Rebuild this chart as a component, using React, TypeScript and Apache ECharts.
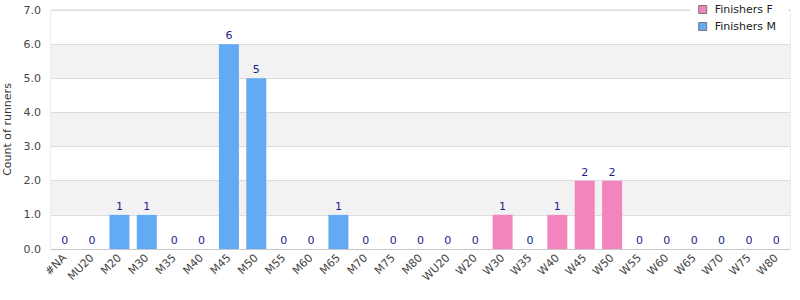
import React, { useEffect, useRef } from "react";
import * as echarts from "echarts";

const categories = ["#NA", "MU20", "M20", "M30", "M35", "M40", "M45", "M50", "M55", "M60", "M65", "M70", "M75", "M80", "WU20", "W20", "W30", "W35", "W40", "W45", "W50", "W55", "W60", "W65", "W70", "W75", "W80"];
const finishersM = [0, 0, 1, 1, 0, 0, 6, 5, 0, 0, 1, 0, 0, 0, null, null, null, null, null, null, null, null, null, null, null, null, null];
const finishersF = [null, null, null, null, null, null, null, null, null, null, null, null, null, null, 0, 0, 1, 0, 1, 2, 2, 0, 0, 0, 0, 0, 0];
const yTicks = [0, 1, 2, 3, 4, 5, 6, 7];

export default function App() {
  const ref = useRef<HTMLDivElement>(null);
  useEffect(() => {
    const chart = echarts.init(ref.current!, null, { renderer: "svg" });
    const font = "DejaVu Sans";
    const label = { show: true, position: "top", distance: 3, color: "#1c1c8c", fontSize: 11, fontFamily: font };
    chart.setOption({
      animation: false,
      textStyle: { fontFamily: font },
      grid: { left: 51, right: 10, top: 10, bottom: 51, containLabel: false, outerBoundsMode: "none", show: true, borderColor: "#d8d8d8", borderWidth: 1, backgroundColor: "transparent" },
      legend: {
        data: ["Finishers F", "Finishers M"],
        orient: "vertical",
        right: 12,
        top: 1,
        itemWidth: 8,
        itemHeight: 8,
        itemGap: 6,
        backgroundColor: "#fff",
        padding: [3, 12, 3, 8],
        itemStyle: { borderColor: "#777", borderWidth: 1 },
        textStyle: { fontSize: 11, color: "#222", fontFamily: font, padding: [0, 0, 0, 3] },
        icon: "rect",
      },
      xAxis: {
        type: "category",
        data: categories,
        axisLine: { show: true, lineStyle: { color: "#c8c8c8" } },
        axisTick: { show: false },
        axisLabel: { rotate: 45, interval: 0, fontSize: 11, color: "#444", fontFamily: font, margin: 7 },
      },
      yAxis: {
        type: "value",
        min: yTicks[0],
        max: yTicks[yTicks.length - 1],
        interval: 1,
        name: "Count of runners",
        nameLocation: "middle",
        nameGap: 38,
        nameTextStyle: { fontSize: 11, color: "#333", fontFamily: font },
        axisLabel: { formatter: (v: number) => v.toFixed(1), fontSize: 11, color: "#444", fontFamily: font, margin: 10 },
        splitLine: { show: true, lineStyle: { color: "#dcdcdc" } },
        splitArea: { show: true, areaStyle: { color: ["#ffffff", "#f2f2f2"] } },
        axisLine: { show: false },
        axisTick: { show: false },
      },
      series: [
        {
          name: "Finishers F",
          type: "bar",
          data: finishersF,
          barWidth: 20,
          barGap: "-100%",
          itemStyle: { color: "#f285bd" },
          label,
        },
        {
          name: "Finishers M",
          type: "bar",
          data: finishersM,
          barWidth: 20,
          itemStyle: { color: "#62aaf3" },
          label,
        },
      ],
    });
    return () => chart.dispose();
  }, []);
  return <div ref={ref} style={{ width: 800, height: 300, position: "absolute", left: 0, top: 0 }} />;
}
